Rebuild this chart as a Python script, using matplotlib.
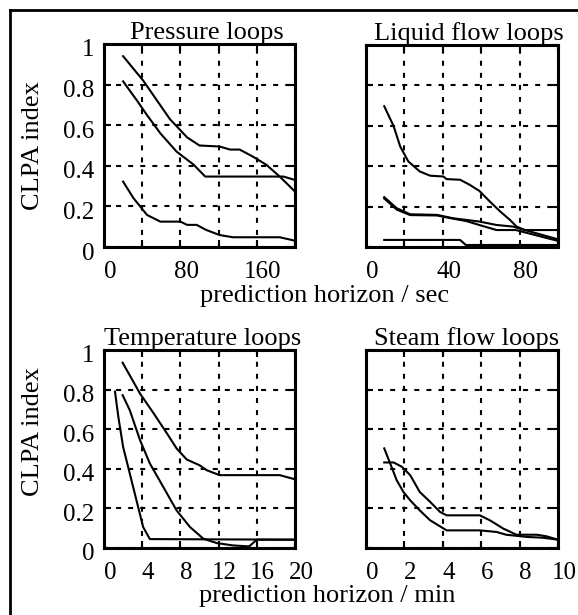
import matplotlib
matplotlib.use("Agg")
import matplotlib.pyplot as plt
import matplotlib.transforms as mtrans
from matplotlib.lines import Line2D

plt.rcParams["font.family"] = ["Liberation Serif", "DejaVu Serif"]

# ---------------- data ----------------
# Pressure loops, horizon in sec
p1_x = [20, 41, 55, 69, 87, 100, 121, 132, 142, 156, 170, 184, 200]
p1_y = [0.94, 0.82, 0.725, 0.63, 0.54, 0.50, 0.495, 0.48, 0.48, 0.445, 0.405, 0.347, 0.273]
p2_x = [20, 34, 45, 59, 76, 94, 106, 188, 200]
p2_y = [0.816, 0.725, 0.65, 0.56, 0.47, 0.405, 0.347, 0.347, 0.33]
p3_x = [20, 31, 45, 59, 80, 87, 97, 107, 121, 135, 184, 200]
p3_y = [0.322, 0.24, 0.158, 0.125, 0.125, 0.109, 0.109, 0.084, 0.059, 0.048, 0.048, 0.031]

# Liquid flow loops, horizon in sec
l1_x = [9.5, 14.4, 17.8, 22, 28, 33.4, 40.3, 42, 49, 54, 59, 64.5, 70, 75, 78.4, 82.7, 100]
l1_y = [0.697, 0.598, 0.498, 0.424, 0.374, 0.353, 0.349, 0.336, 0.333, 0.308, 0.278,
        0.225, 0.175, 0.134, 0.101, 0.084, 0.038]
l2_x = [9.5, 16, 23, 37, 45.5, 52.4, 59, 68, 76.6, 82.7, 100]
l2_y = [0.247, 0.192, 0.162, 0.159, 0.142, 0.134, 0.126, 0.109, 0.101, 0.084, 0.084]
l3_x = [9.5, 16, 23, 37, 45.5, 52.4, 59, 68, 78, 100]
l3_y = [0.240, 0.185, 0.158, 0.156, 0.140, 0.128, 0.109, 0.084, 0.084, 0.030]
l4_x = [9.5, 49, 52, 100]
l4_y = [0.035, 0.035, 0.010, 0.010]

# Temperature loops, horizon in min
t1_x = [1.95, 3.77, 5.2, 6.6, 7.6, 8.66, 10, 10.75, 12.1, 18.4, 20]
t1_y = [0.936, 0.78, 0.68, 0.578, 0.503, 0.447, 0.418, 0.393, 0.368, 0.368, 0.347]
t2_x = [1.95, 2.7, 3.77, 4.8, 6.2, 7.6, 9, 10.4, 11.8, 13.5, 15.2, 16, 20]
t2_y = [0.772, 0.696, 0.545, 0.427, 0.309, 0.19, 0.106, 0.047, 0.025, 0.013, 0.008, 0.042, 0.042]
t3_x = [1.15, 1.5, 2.0, 2.7, 3.4, 4.1, 4.8, 20]
t3_y = [0.79, 0.663, 0.511, 0.376, 0.241, 0.106, 0.045, 0.042]

# Steam flow loops, horizon in min
s1_x = [0.95, 1.26, 1.6, 1.95, 2.3, 2.8, 3.34, 4.2, 5.93, 6.8, 7.3, 8.36, 9.2, 10]
s1_y = [0.503, 0.427, 0.342, 0.283, 0.241, 0.19, 0.14, 0.089, 0.089, 0.081, 0.067, 0.056, 0.052, 0.042]
s2_x = [0.95, 1.44, 1.87, 2.3, 2.8, 3.34, 3.86, 4.2, 5.93, 6.45, 7.15, 7.84, 8.9, 9.4, 10]
s2_y = [0.432, 0.432, 0.41, 0.368, 0.283, 0.233, 0.182, 0.165, 0.165, 0.14, 0.098, 0.067, 0.067, 0.059, 0.042]

panels = [
    ("Pressure loops", [(p1_x, p1_y), (p2_x, p2_y), (p3_x, p3_y)],
     200, [0, 40, 80, 120, 160, 200], ["0", "", "80", "", "160", ""], 0.54),
    ("Liquid flow loops", [(l1_x, l1_y), (l2_x, l2_y), (l3_x, l3_y), (l4_x, l4_y)],
     100, [0, 20, 40, 60, 80, 100], ["0", "", "40", "", "80", ""], 0.537),
    ("Temperature loops", [(t1_x, t1_y), (t2_x, t2_y), (t3_x, t3_y)],
     20, [0, 4, 8, 12, 16, 20], ["0", "4", "8", "12", "16", "20"], 0.515),
    ("Steam flow loops", [(s1_x, s1_y), (s2_x, s2_y)],
     10, [0, 2, 4, 6, 8, 10], ["0", "2", "4", "6", "8", "10"], 0.523),
]
y_ticks = [0, 0.2, 0.4, 0.6, 0.8, 1]
y_labels = ["0", "0.2", "0.4", "0.6", "0.8", "1"]

W, H = 578, 615
fig = plt.figure(figsize=(W / 100, H / 100), dpi=100)

# axes boxes in pixels: left, top, right, bottom
boxes = [(104, 44, 295, 247), (366, 45, 558, 247),
         (104, 350, 295, 548), (366, 350, 558, 548)]

x_off = mtrans.ScaledTranslation(6 / 100, 0, fig.dpi_scale_trans)
y_off = mtrans.ScaledTranslation(0, -4 / 100, fig.dpi_scale_trans)
grid_ls = (0, (2.4, 3.4))

for i, (title, curves, xmax, xt, xl, tx) in enumerate(panels):
    l, t, r, b = boxes[i]
    ax = fig.add_axes([l / W, 1 - b / H, (r - l) / W, (b - t) / H])
    for cx, cy in curves:
        ax.plot(cx, cy, color="black", lw=1.5, solid_joinstyle="round")
    ax.set_xlim(0, xmax)
    ax.set_ylim(0, 1)
    ax.set_xticks(xt)
    ax.set_xticklabels(xl)
    ax.set_yticks(y_ticks)
    if i % 2 == 0:
        ax.set_yticklabels(y_labels)
    else:
        ax.set_yticklabels([])
    ax.tick_params(direction="in", length=5, width=1.5, labelsize=18,
                   top=True, right=True, color="black")
    ax.tick_params(axis="x", pad=10)
    ax.tick_params(axis="y", pad=7)
    ax.grid(True, color="black", lw=1.5, linestyle=grid_ls)
    for sp in ax.spines.values():
        sp.set_linewidth(2.2)
    for lab in ax.get_xticklabels():
        lab.set_transform(lab.get_transform() + x_off)
    for lab in ax.get_yticklabels():
        lab.set_transform(lab.get_transform() + y_off)
    ax.text(tx, 1.0, title, transform=ax.transAxes, ha="center", va="bottom",
            fontsize=19)

# axis labels
fig.text(33 / W, 1 - 146 / H, "CLPA index", rotation=90, ha="center", va="center", fontsize=19)
fig.text(33 / W, 1 - 432 / H, "CLPA index", rotation=90, ha="center", va="center", fontsize=19)
fig.text(325 / W, 1 - 302 / H, "prediction horizon / sec", ha="center", va="baseline", fontsize=19)
fig.text(327 / W, 1 - 602 / H, "prediction horizon / min", ha="center", va="baseline", fontsize=19)

# outer frame (left and top edges visible)
fig.add_artist(Line2D([10 / W, 10 / W], [0, 1 - 10 / H], color="black", lw=2,
                      transform=fig.transFigure, solid_capstyle="projecting"))
fig.add_artist(Line2D([10 / W, 1], [1 - 10 / H, 1 - 10 / H], color="black", lw=2,
                      transform=fig.transFigure, solid_capstyle="projecting"))

fig.savefig("out.png", dpi=100, facecolor="white")
